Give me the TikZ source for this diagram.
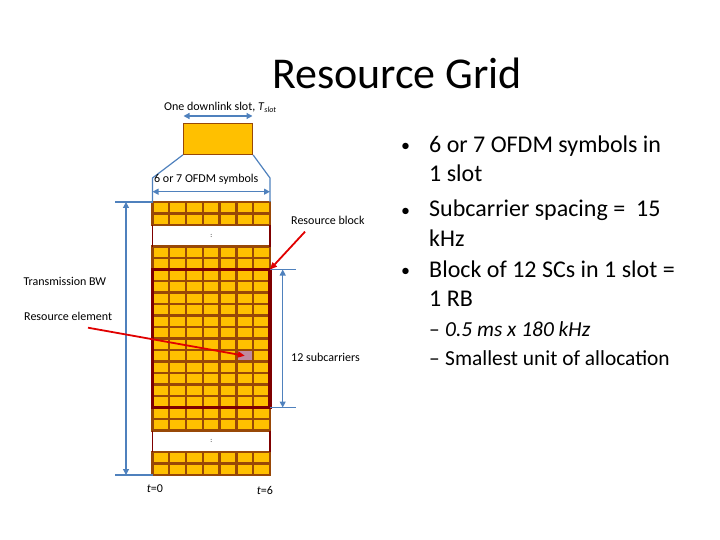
\documentclass[tikz,border=0pt]{standalone}
\usepackage{fontspec}
\setmainfont{Carlito}
\usepackage{xcolor}
\usetikzlibrary{positioning, arrows.meta}
\definecolor{cellorange}{HTML}{FFC000}
\definecolor{cellbrown}{HTML}{984807}
\definecolor{rbred}{HTML}{7F0000}
\definecolor{dimblue}{HTML}{4F81BD}
\definecolor{pointred}{HTML}{E00000}
\definecolor{repink}{HTML}{C08A9E}

\tikzset{
  gridline/.style={draw=cellbrown, line width=2.4pt, line cap=rect},
  dimline/.style={draw=dimblue, line width=1.2pt},
  dimarrow/.style={dimline, {Triangle[length=6pt, width=6pt]}-{Triangle[length=6pt, width=6pt]}},
  pointer/.style={draw=pointred, line width=1.8pt, -{Triangle[length=7pt, width=6pt]}},
  smalllabel/.style={font=\fontsize{12}{14}\selectfont, inner sep=0pt, anchor=base west},
  bigtext/.style={font=\fontsize{24}{29}\selectfont, inner sep=0pt, anchor=base west},
  subtext/.style={font=\fontsize{21.4}{25}\selectfont, inner sep=0pt, anchor=base west},
  bulletdot/.style={font=\fontsize{18}{20}\selectfont, inner sep=0pt, anchor=base},
}

\begin{document}
\begin{tikzpicture}[x=1pt, y=-1pt]
  \useasboundingbox (0,0) rectangle (720,540);

  \node[font=\fontsize{44}{53}\selectfont, inner sep=0pt, anchor=base] (title) at (397,89) {Resource Grid};

  % one slot
  \node[fill=cellorange, draw=cellbrown, line width=1.2pt, minimum width=69pt,
        minimum height=31pt, inner sep=0pt] (slot) at (218,138.8) {};
  \node[smalllabel] (slotlabel) at (164,111) {One downlink slot, \textit{T}\textsubscript{\textit{slot}}};
  \coordinate (slotL) at (183.5,116);
  \coordinate (slotR) at (252.5,116);
  \draw[dimarrow] (slotL) -- (slotR);

  % resource grid
  \foreach \ya/\nr in {202/2, 246.5/2, 269.5/12, 407.5/2, 452/2} {
    \fill[cellorange] (152.5,\ya) rectangle ++(117.5,\nr*11.5);
    \foreach \c in {0,...,7}
      \draw[gridline] (152.5+\c*16.786,\ya) -- ++(0,\nr*11.5);
    \foreach \r in {0,...,\nr}
      \draw[gridline] (152.5,\ya+\r*11.5) -- ++(117.5,0);
  }
  \node[fill=repink, minimum width=14.4pt, minimum height=9.1pt, inner sep=0pt] (recell) at (244.8,355.75) {};
  \foreach \yb [count=\k] in {225, 430.5} {
    \draw[rbred, line width=1.2pt] (152.5,\yb) -- ++(0,21.5) (270,\yb) -- ++(0,21.5);
    \node[font=\fontsize{7}{8}\selectfont, inner sep=0pt] (gap\k) at (211.25,\yb+10.75) {:};
  }
  \draw[rbred, line width=3.2pt] (152.5,269.5) rectangle (270,407.5);

  \coordinate (gridNW) at (152.5,202);
  \coordinate (gridNE) at (270,202);
  \coordinate (gridSW) at (152.5,475);
  \coordinate (rbNE) at (270,269.5);
  \coordinate (rbSE) at (270,407.5);

  % dimension lines
  \coordinate (bendL) at (152.5,178);
  \coordinate (bendR) at (270,178);
  \draw[dimline] (slot.south west) -- (bendL) -- (gridNW);
  \draw[dimline] (slot.south east) -- (bendR) -- (gridNE);
  \coordinate (symL) at (152.5,191.7);
  \coordinate (symR) at (270,191.7);
  \draw[dimarrow] (symL) -- (symR);
  \node[smalllabel] (symlabel) at (154,182.3) {6 or 7 OFDM symbols};

  \coordinate (bwtickT) at (115,202);
  \coordinate (bwtickB) at (115,475);
  \coordinate (bwT) at (126,202);
  \coordinate (bwB) at (126,475);
  \draw[dimline] (bwtickT) -- (gridNW) (bwtickB) -- (gridSW);
  \draw[dimarrow] (bwT) -- (bwB);
  \node[smalllabel] (bwlabel) at (23.3,285.5) {Transmission BW};

  \coordinate (sctickT) at (296,269.5);
  \coordinate (sctickB) at (296,407.5);
  \coordinate (scT) at (282.7,269.5);
  \coordinate (scB) at (282.7,407.5);
  \draw[dimline] (rbNE) -- (sctickT) (rbSE) -- (sctickB);
  \draw[dimarrow] (scT) -- (scB);
  \node[smalllabel] (sclabel) at (291,361.7) {12 subcarriers};

  % pointers
  \node[smalllabel] (rblabel) at (291,224.3) {Resource block};
  \coordinate (rbtail) at (305,231.7);
  \draw[pointer] (rbtail) -- (rbNE);
  \node[smalllabel] (relabel) at (24,320.7) {Resource element};
  \coordinate (retail) at (88,327.7);
  \draw[pointer] (retail) -- (recell.center);

  \node[smalllabel] (t0) at (146.7,492.7) {\textit{t}=0};
  \node[smalllabel] (t6) at (256.7,494) {\textit{t}=6};

  % bullets
  \node[bulletdot] (dot1) at (405.5,152) {•};
  \node[bigtext] (b1a) at (429,153) {6 or 7 OFDM symbols in};
  \node[bigtext] (b1b) at (429,182) {1 slot};
  \node[bulletdot] (dot2) at (405.5,216) {•};
  \node[bigtext] (b2a) at (429,217) {Subcarrier spacing =\ \ 15};
  \node[bigtext] (b2b) at (429,246) {kHz};
  \node[bulletdot] (dot3) at (405.5,276) {•};
  \node[bigtext] (b3a) at (429,277) {Block of 12 SCs in 1 slot =};
  \node[bigtext] (b3b) at (429,306) {1 RB};
  \node[subtext, anchor=base] (dash1) at (434.5,336) {–};
  \node[subtext] (s1) at (445,336) {\textit{0.5 ms x 180 kHz}};
  \node[subtext, anchor=base] (dash2) at (434.5,365) {–};
  \node[subtext] (s2) at (445,365) {Smallest unit of allocation};
\end{tikzpicture}
\end{document}
